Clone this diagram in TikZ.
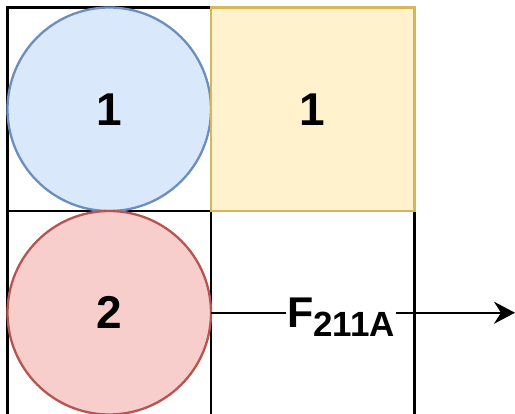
\documentclass[tikz,border=0pt]{standalone}
\usepackage{fontspec}
\setmainfont{Liberation Sans}
\usetikzlibrary{arrows.meta}
\definecolor{blueFill}{HTML}{DAE8FC}
\definecolor{blueLine}{HTML}{6C8EBF}
\definecolor{yellowFill}{HTML}{FFF2CC}
\definecolor{yellowLine}{HTML}{D6B656}
\definecolor{redFill}{HTML}{F8CECC}
\definecolor{redLine}{HTML}{B85450}
\begin{document}
\begin{tikzpicture}[x=1pt,y=-1pt,
  cell/.style={draw=black, line width=2.8pt, minimum width=203.5pt, minimum height=203.5pt, inner sep=0pt, outer sep=0pt},
  ball/.style={circle, line width=2.3pt, minimum size=203.5pt, inner sep=0pt, outer sep=0pt,
    font=\fontsize{46}{46}\selectfont\bfseries},
  block/.style={rectangle, line width=2.3pt, minimum size=203.5pt, inner sep=0pt, outer sep=0pt,
    font=\fontsize{46}{46}\selectfont\bfseries},
  force/.style={line width=2.3pt, -{Stealth[length=21pt, width=22pt, inset=7pt]}},
  flabel/.style={fill=white, inner sep=1pt, font=\bfseries}
]
\clip (0,0) rectangle (515,414);
% grid of cells
\node[cell] (c11) at (109.25,109.25) {};
\node[cell] (c12) at (312.75,109.25) {};
\node[cell, minimum height=208pt] (c21) at (109.25,315) {};
\node[cell, minimum height=208pt] (c22) at (312.75,315) {};
% bodies
\node[ball, draw=blueLine, fill=blueFill] (b1) at (109.25,109.25) {1};
\node[block, draw=yellowLine, fill=yellowFill] (y1) at (312.75,109.25) {1};
\node[ball, draw=redLine, fill=redFill] (r2) at (109.25,312.75) {2};
% force arrow
\coordinate (fend) at (515,312.75);
\draw[force] (r2.east) -- (fend);
\node[flabel, anchor=base west] (f) at (286,328)
  {\fontsize{43}{43}\selectfont F\raisebox{-9pt}{\fontsize{35}{35}\selectfont 211A}};
\end{tikzpicture}
\end{document}
